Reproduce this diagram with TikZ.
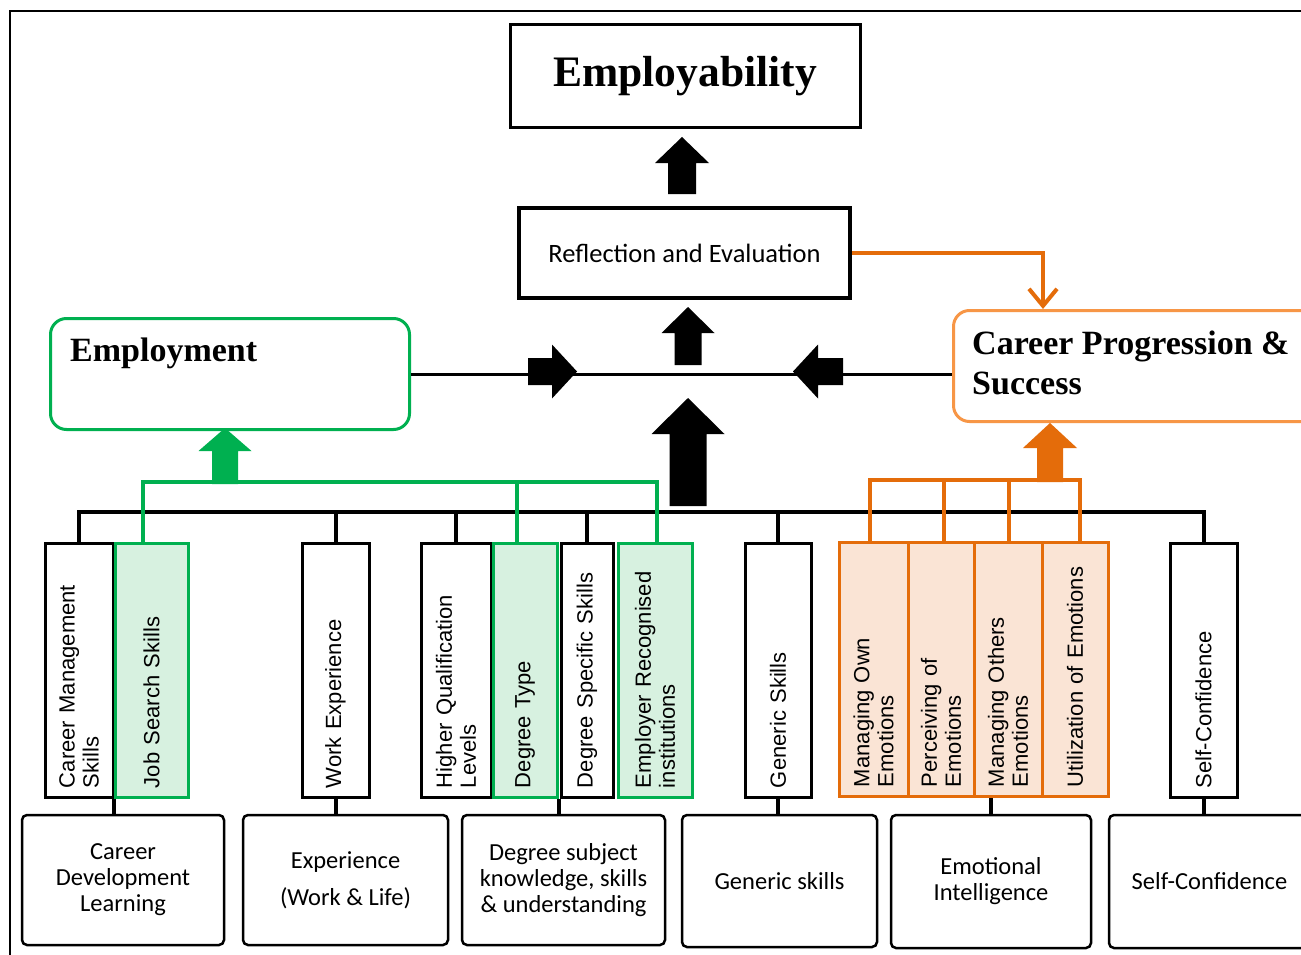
\documentclass[tikz,border=0pt]{standalone}
\usepackage{fontspec}
\setmainfont{Liberation Serif}
\newfontfamily\arialf{Liberation Sans}
\newfontfamily\calf{Carlito}
\usetikzlibrary{arrows.meta,calc}
\definecolor{egreen}{HTML}{00B050}
\definecolor{egreenfill}{HTML}{D7F1E0}
\definecolor{eorange}{HTML}{E46C0A}
\definecolor{eorangefill}{HTML}{FAE4D5}
\definecolor{eorangelt}{HTML}{F79646}
\tikzset{
 vbox/.style={rotate=90, minimum width=254pt, text width=236pt, inner xsep=9pt, inner ysep=0pt, align=left, font=\arialf\fontsize{22}{24}\selectfont, line width=3pt},
 vblack/.style={vbox, draw=black, fill=white},
 vgreen/.style={vbox, draw=egreen, fill=egreenfill},
 vorange/.style={vbox, draw=eorange, fill=eorangefill},
 bbox/.style={draw=black, line width=2.5pt, rounded corners=5pt, minimum height=130pt, align=center, font=\calf\fontsize{24.5}{26}\selectfont, inner sep=0pt},
 bus/.style={line width=4pt},
 gbus/.style={line width=3.5pt, draw=egreen},
 obus/.style={line width=4pt, draw=eorange},
 titlebox/.style={draw, inner sep=0pt},
 boldtxt/.style={anchor=north west, inner sep=0pt, align=left, font=\bfseries\fontsize{34}{40}\selectfont},
}
% color, cx, tip, headbase, bottom, headhalf, shafthalf
\newcommand\blkup[7]{\fill[#1] (#2,#3) -- (#2+#6,#4) -- (#2+#7,#4) -- (#2+#7,#5) -- (#2-#7,#5) -- (#2-#7,#4) -- (#2-#6,#4) -- cycle;}
% color, cy, tip, headbase, end, headhalf, shafthalf
\newcommand\blkh[7]{\fill[#1] (#3,#2) -- (#4,#2-#6) -- (#4,#2-#7) -- (#5,#2-#7) -- (#5,#2+#7) -- (#4,#2+#7) -- (#4,#2+#6) -- cycle;}
\begin{document}
\begin{tikzpicture}[x=1pt,y=-1pt]
\useasboundingbox (0,0) rectangle (1301,955);
\clip (0,0) rectangle (1301,955);
\fill[white] (0,0) rectangle (1301,955);
\draw[line width=2pt] (10,960) -- (10,11) -- (1310,11);

% top boxes
\node[titlebox, line width=3pt, minimum width=350pt, minimum height=103pt, font=\bfseries\fontsize{43.5}{48}\selectfont] (empl) at (685,76.5) {Employability};
\node[titlebox, line width=4pt, minimum width=331pt, minimum height=90pt, font=\calf\fontsize{26.5}{30}\selectfont] (refl) at (684.5,253) {Reflection and Evaluation};

\node[draw=egreen, line width=3pt, rounded corners=16pt, minimum width=359pt, minimum height=111pt, anchor=north west] (emp) at (49,317) {};
\node[boldtxt] (emptxt) at (70,338) {Employment};

\node[draw=eorangelt, line width=3pt, rounded corners=16pt, minimum width=372pt, minimum height=111pt, anchor=north west] (cps) at (952,309) {};
\node[boldtxt] (cpstxt) at (972,331) {Career Progression \&\\Success};

% connectors between top boxes
\draw[line width=3pt] (emp.east) -- (emp.east -| cps.west);
\coordinate (cpin) at (1043,309);
\draw[line width=4pt, eorange, -{Straight Barb[length=17pt,width=28pt]}] (refl.east) -| (cpin);

% block arrows
\blkup{black}{682}{137}{163}{194}{27}{14}
\blkup{black}{688}{307}{333}{365}{26.5}{13.5}
\blkup{black}{688}{398}{434}{506}{36.5}{18.5}
\blkup{egreen}{225}{428}{451}{484}{26.5}{13}
\blkup{eorange}{1050}{423}{448}{482}{27}{13}
\blkh{black}{371.5}{577}{552}{528}{27}{13.5}
\blkh{black}{371.5}{793}{818}{843}{27}{13.5}

% vertical boxes
\node[vblack, minimum height=68pt] (cms) at (79,670) {Career Management\\Skills};
\node[vblack, minimum height=67pt] (we) at (335.5,670) {Work Experience};
\node[vblack, minimum height=70pt] (hql) at (456,670) {Higher Qualification\\Levels};
\node[vblack, minimum height=52pt] (dss) at (587,670) {Degree Specific Skills};
\node[vblack, minimum height=66pt] (gs) at (778,670) {Generic Skills};
\node[vblack, minimum height=67pt] (sc) at (1203.5,670) {Self-Confidence};
\node[vgreen, minimum height=73pt] (jss) at (151.5,670) {Job Search Skills};
\node[vgreen, minimum height=64pt] (dt) at (525,670) {Degree Type};
\node[vgreen, minimum height=74pt] (eri) at (655,670) {Employer Recognised\\institutions};
\node[vorange, minimum height=69pt] (moe) at (873.5,669) {Managing Own\\Emotions};
\node[vorange, minimum height=66pt] (poe) at (941,669) {Perceiving of\\Emotions};
\node[vorange, minimum height=68pt] (mothe) at (1008,669) {Managing Others\\Emotions};
\node[vorange, minimum height=66pt] (uoe) at (1075,669) {Utilization of Emotions};

% black bus
\path (cms.east) ++(0,-30) coordinate (busL);
\path (sc.east) ++(0,-30) coordinate (busR);
\draw[bus] ($(busL)+(-2,0)$) -- ($(busR)+(2,0)$);
\foreach \n in {cms,we,hql,dss,gs,sc} \draw[bus] (\n.east) -- (\n.east |- busL);

% green bus
\coordinate (gbusy) at (0,482);
\path ($(jss.east)+(-8.5,0)$) coordinate (g1);
\path ($(dt.east)+(-8,0)$) coordinate (g2);
\path ($(eri.east)+(2,0)$) coordinate (g3);
\draw[gbus] (g1) |- (g3 |- gbusy) -- (g3);
\draw[gbus] (g2) -- (g2 |- gbusy);

% orange bus
\coordinate (obusy) at (0,480);
\path ($(moe.east)+(-3.5,0)$) coordinate (o1);
\path ($(poe.east)+(3,0)$) coordinate (o2);
\path ($(mothe.east)+(1,0)$) coordinate (o3);
\path ($(uoe.east)+(5,0)$) coordinate (o4);
\draw[obus] (o1) |- (o4 |- obusy) -- (o4);
\draw[obus] (o2) -- (o2 |- obusy);
\draw[obus] (o3) -- (o3 |- obusy);

% bottom boxes
\node[bbox, minimum width=202pt] (cdl) at (123,880) {Career\\Development\\Learning};
\node[bbox, minimum width=205pt] (exp) at (345.5,880) {Experience\\[11pt](Work \& Life)};
\node[bbox, minimum width=203pt] (dsk) at (563.5,880) {Degree subject\\knowledge, skills\\\& understanding};
\node[bbox, minimum width=195pt, minimum height=132pt] (gen) at (779.5,881) {Generic skills};
\node[bbox, minimum width=200pt, minimum height=133pt] (ei) at (991,881.5) {Emotional\\Intelligence};
\node[bbox, minimum width=201pt, minimum height=133pt] (scb) at (1209.5,881.5) {Self-Confidence};

% bottom connectors
\path ($(cms.south west)!0.5!(jss.north west)$) coordinate (c1);
\draw[bus] (c1) -- (c1 |- cdl.north);
\draw[bus] (we.west) -- (we.west |- exp.north);
\draw[bus] (dt.south west) -- (dt.south west |- dsk.north);
\draw[bus] (gs.west) -- (gs.west |- gen.north);
\draw[bus] (ei.north) -- (ei.north |- mothe.west);
\draw[bus] (sc.west) -- (sc.west |- scb.north);
\end{tikzpicture}
\end{document}
